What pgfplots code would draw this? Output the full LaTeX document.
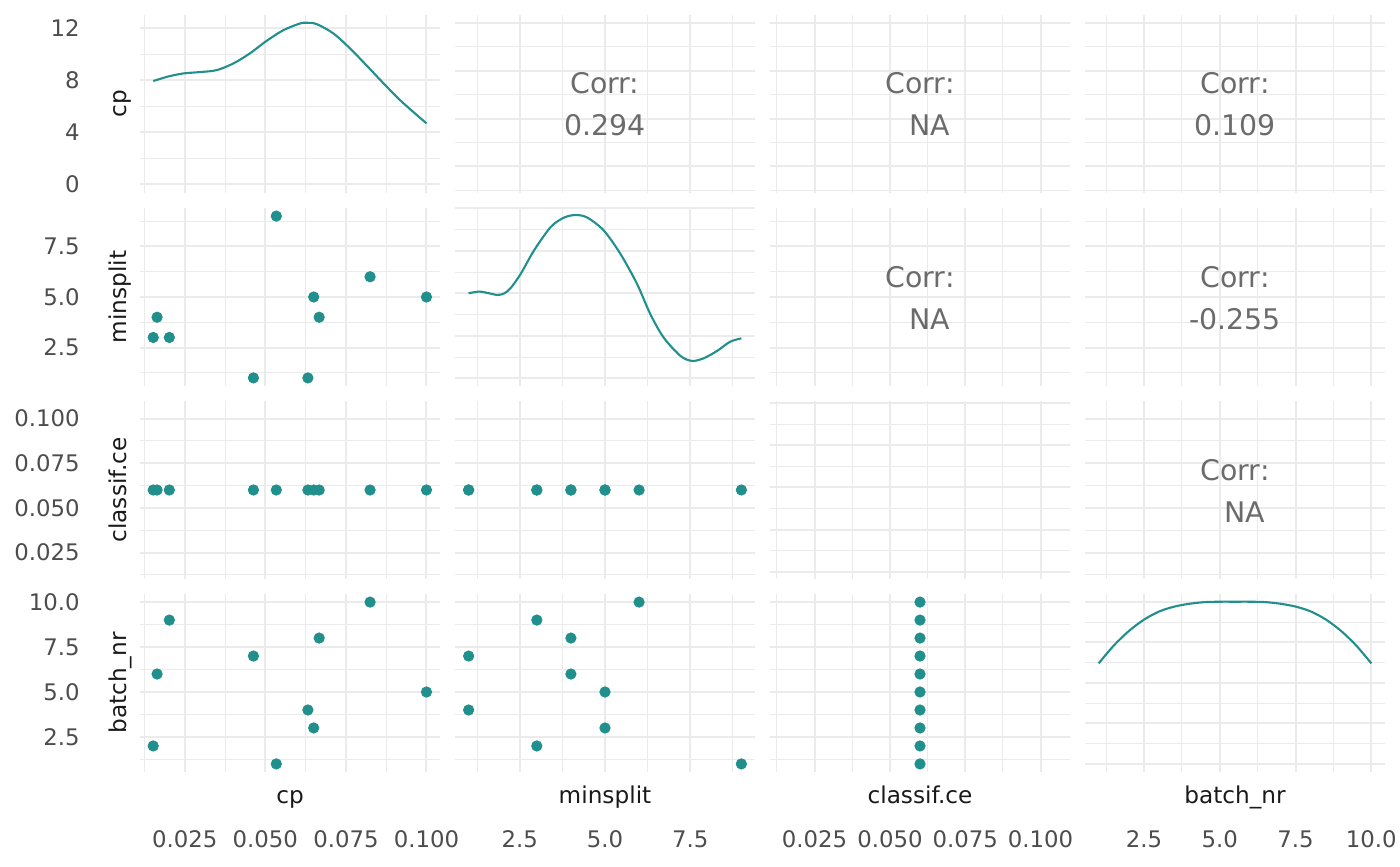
\documentclass[border=0pt]{standalone}
\usepackage{fontspec}
\setmainfont{DejaVu Sans}
\usepackage{pgfplots}
\usepackage{pgfplotstable}
\pgfplotsset{compat=1.18}

\definecolor{ggteal}{HTML}{21908C}
\definecolor{gridc}{HTML}{EBEBEB}
\definecolor{tickc}{HTML}{4D4D4D}
\definecolor{stripc}{HTML}{1A1A1A}
\definecolor{corrc}{HTML}{6B6B6B}

\pgfplotstableread{
batch cp minsplit ce
1 0.0534 9 0.06
2 0.0152 3 0.06
3 0.0650 5 0.06
4 0.0632 1 0.06
5 0.1000 5 0.06
6 0.0164 4 0.06
7 0.0463 1 0.06
8 0.0667 4 0.06
9 0.0202 3 0.06
10 0.0825 6 0.06
}\hp

\pgfplotstableread{
x y
0.0152 7.94
0.0200 8.30
0.0247 8.53
0.0297 8.63
0.0349 8.78
0.0401 9.30
0.0452 10.07
0.0504 11.04
0.0556 11.86
0.0608 12.38
0.0628 12.43
0.0659 12.33
0.0711 11.61
0.0763 10.45
0.0815 9.12
0.0866 7.78
0.0918 6.47
0.0970 5.32
0.1000 4.68
}\cpdens

\pgfplotstableread{
x y
1.00 2.00
1.31 2.04
1.60 2.00
1.85 1.96
2.05 2.00
2.24 2.13
2.53 2.46
2.92 3.01
3.41 3.56
3.80 3.78
4.14 3.84
4.48 3.78
4.96 3.48
5.45 2.93
5.94 2.22
6.33 1.51
6.72 0.96
7.21 0.53
7.55 0.41
7.89 0.47
8.28 0.64
8.67 0.86
9.00 0.94
}\msdens

\pgfplotstableread{
x y
1.00 2.48
1.50 2.92
2.00 3.28
2.50 3.56
3.00 3.76
3.50 3.88
4.00 3.95
4.50 3.99
5.00 4.00
5.50 4.00
6.00 4.00
6.50 3.99
7.00 3.95
7.50 3.88
8.00 3.76
8.50 3.56
9.00 3.28
9.50 2.92
10.00 2.48
}\bdens

\pgfplotsset{
  panel/.style={scale only axis, width=150pt, height=89pt, anchor=north west,
    axis line style={draw=none}, major tick length=0pt, minor tick length=0pt,
    xmajorgrids, ymajorgrids, xminorgrids, yminorgrids,
    major grid style={gridc, line width=1pt},
    minor grid style={gridc, line width=0.5pt},
    xticklabels={}, yticklabels={},
    tick label style={font=\fontsize{11.4}{13}\selectfont, text=tickc, inner sep=0pt},
    xticklabel style={anchor=base, yshift=-37.5pt},
    yticklabel style={anchor=east, xshift=-30pt},
  },
  xcp/.style={xmin=0.0111, xmax=0.1042, xtick={0.025,0.05,0.075,0.1}, minor xtick={0.0125,0.0375,0.0625,0.0875}},
  ycp/.style={ymin=0.0111, ymax=0.1042, ytick={0.025,0.05,0.075,0.1}, minor ytick={0.0125,0.0375,0.0625,0.0875}},
  xms/.style={xmin=0.6, xmax=9.4, xtick={2.5,5,7.5}, minor xtick={1.25,3.75,6.25,8.75}},
  yms/.style={ymin=0.6, ymax=9.4, ytick={2.5,5,7.5}, minor ytick={1.25,3.75,6.25,8.75}},
  xce/.style={xmin=0.0102, xmax=0.1098, xtick={0.025,0.05,0.075,0.1}, minor xtick={0.0125,0.0375,0.0625,0.0875}},
  yce/.style={ymin=0.0102, ymax=0.1098, ytick={0.025,0.05,0.075,0.1}, minor ytick={0.0125,0.0375,0.0625,0.0875}},
  xbn/.style={xmin=0.55, xmax=10.45, xtick={2.5,5,7.5,10}, minor xtick={1.25,3.75,6.25,8.75}},
  ybn/.style={ymin=0.55, ymax=10.45, ytick={2.5,5,7.5,10}, minor ytick={1.25,3.75,6.25,8.75}},
  pts/.style={only marks, mark=*, mark size=2.6pt, color=ggteal, mark options={draw=none, fill=ggteal}},
  dens/.style={no marks, smooth, tension=0.5, color=ggteal, line width=1.05pt},
}

\newcommand{\corr}[2]{%
  \node[anchor=base, text=corrc, font=\fontsize{14.2}{17}\selectfont, inner sep=0pt] at (rel axis cs:0.5,0.5) [yshift=5pt] {Corr:};
  \node[anchor=base, text=corrc, font=\fontsize{14.2}{17}\selectfont, inner sep=0pt] at (rel axis cs:0.5,0.5) [yshift=-16pt, xshift=#2] {#1};
}

\begin{document}
\begin{tikzpicture}
\useasboundingbox (0,0) rectangle (700pt,-433pt);

% ---------- Row 1 ----------
\begin{axis}[panel, at={(70pt,-7.5pt)}, xcp, ymin=-0.69, ymax=13.03, ytick={0,4,8,12}, minor ytick={2,6,10}, yticklabels={0,4,8,12}]
\addplot[dens] table[x=x,y=y] {\cpdens};
\end{axis}
\begin{axis}[panel, at={(227.5pt,-7.5pt)}, xms, ycp]
\corr{0.294}{0pt}
\end{axis}
\begin{axis}[panel, at={(385pt,-7.5pt)}, xce, ycp]
\corr{NA}{5pt}
\end{axis}
\begin{axis}[panel, at={(542.5pt,-7.5pt)}, xbn, ycp]
\corr{0.109}{0pt}
\end{axis}

% ---------- Row 2 ----------
\begin{axis}[panel, at={(70pt,-104pt)}, xcp, yms, yticklabels={2.5,5.0,7.5}]
\addplot[pts] table[x=cp,y=minsplit] {\hp};
\end{axis}
\begin{axis}[panel, at={(227.5pt,-104pt)}, xms, ymin=-0.18, ymax=4.005, ytick={0,1,2,3,4}, minor ytick={0.5,1.5,2.5,3.5}]
\addplot[dens] table[x=x,y=y] {\msdens};
\end{axis}
\begin{axis}[panel, at={(385pt,-104pt)}, xce, yms]
\corr{NA}{5pt}
\end{axis}
\begin{axis}[panel, at={(542.5pt,-104pt)}, xbn, yms]
\corr{-0.255}{0pt}
\end{axis}

% ---------- Row 3 ----------
\begin{axis}[panel, at={(70pt,-200.5pt)}, xcp, yce, yticklabels={0.025,0.050,0.075,0.100}]
\addplot[pts] table[x=cp,y=ce] {\hp};
\end{axis}
\begin{axis}[panel, at={(227.5pt,-200.5pt)}, xms, yce]
\addplot[pts] table[x=minsplit,y=ce] {\hp};
\end{axis}
\begin{axis}[panel, at={(385pt,-200.5pt)}, xce, ymin=-0.175, ymax=4.055, ytick={0,1,2,3,4}, minor ytick={0.5,1.5,2.5,3.5}]
\end{axis}
\begin{axis}[panel, at={(542.5pt,-200.5pt)}, xbn, yce]
\corr{NA}{5pt}
\end{axis}

% ---------- Row 4 ----------
\begin{axis}[panel, at={(70pt,-297pt)}, xcp, ybn, yticklabels={2.5,5.0,7.5,10.0}, xticklabels={0.025,0.050,0.075,0.100}]
\addplot[pts] table[x=cp,y=batch] {\hp};
\end{axis}
\begin{axis}[panel, at={(227.5pt,-297pt)}, xms, ybn, xticklabels={2.5,5.0,7.5}]
\addplot[pts] table[x=minsplit,y=batch] {\hp};
\end{axis}
\begin{axis}[panel, at={(385pt,-297pt)}, xce, ybn, xticklabels={0.025,0.050,0.075,0.100}]
\addplot[pts] table[x=ce,y=batch] {\hp};
\end{axis}
\begin{axis}[panel, at={(542.5pt,-297pt)}, xbn, ymin=-0.197, ymax=4.19, ytick={0,1,2,3,4}, minor ytick={0.5,1.5,2.5,3.5}, xticklabels={2.5,5.0,7.5,10.0}]
\addplot[dens] table[x=x,y=y] {\bdens};
\end{axis}

% ---------- strip labels ----------
\tikzset{strip/.style={anchor=base, inner sep=0pt, text=stripc, font=\fontsize{11.6}{14}\selectfont}}
\node[strip] at (145pt,-401.5pt) {cp};
\node[strip] at (302.5pt,-401.5pt) {minsplit};
\node[strip] at (460pt,-401.5pt) {classif.ce};
\node[strip] at (617.5pt,-401.5pt) {batch\_nr};
\node[strip, rotate=90] at (63pt,-52pt) {cp};
\node[strip, rotate=90] at (63pt,-148.5pt) {minsplit};
\node[strip, rotate=90] at (63pt,-245pt) {classif.ce};
\node[strip, rotate=90] at (63pt,-341.5pt) {batch\_nr};
\end{tikzpicture}
\end{document}
